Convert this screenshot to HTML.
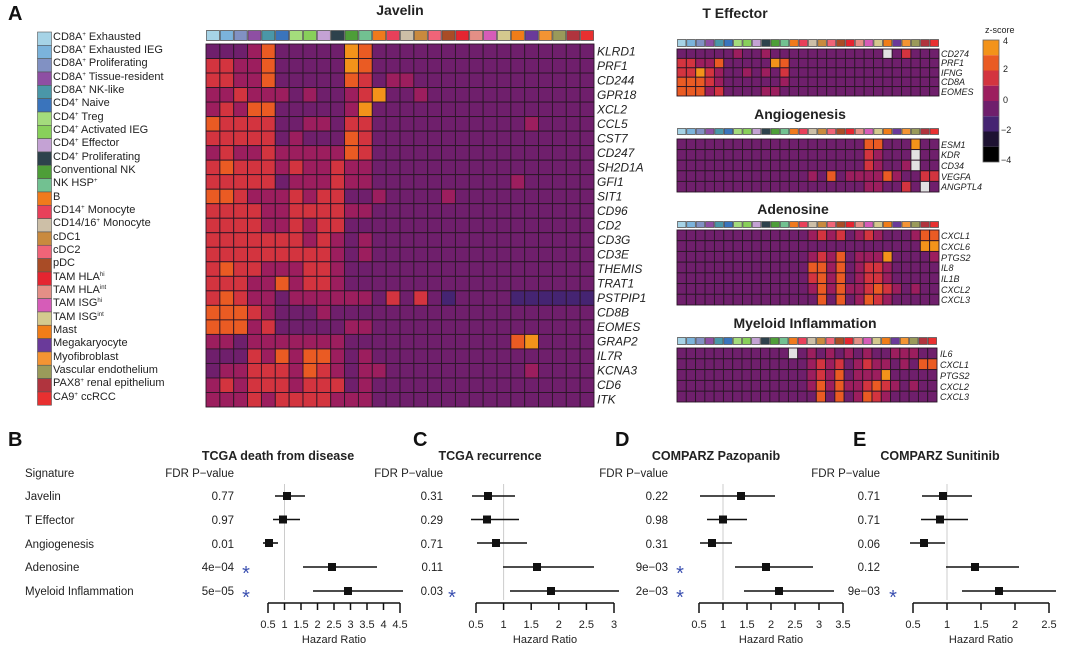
<!DOCTYPE html>
<html><head><meta charset="utf-8"><style>
html,body{margin:0;padding:0;background:#fff;}
svg{display:block;font-family:"Liberation Sans",Arial,sans-serif;}
.g{font-style:italic;font-size:12px;fill:#222}
.gs{font-style:italic;font-size:9px;fill:#222}
.lg{font-size:11px;fill:#222}
.t{font-weight:bold;font-size:14px;fill:#222}
.f{font-size:11.5px;fill:#222}
.tk{font-size:11px;fill:#222}
.P{font-weight:bold;font-size:20px;fill:#111}
.st{fill:#3a4fb0;font-size:20px}
</style></head><body>
<svg id="s" width="1067" height="650" viewBox="0 0 1067 650" xmlns="http://www.w3.org/2000/svg">
<g id="shapes"></g>
<text class="P" x="8" y="20">A</text>
<text class="t" x="400" y="15" text-anchor="middle">Javelin</text>
<text class="t" x="735" y="18" text-anchor="middle">T Effector</text>
<text class="t" x="800" y="119" text-anchor="middle">Angiogenesis</text>
<text class="t" x="793" y="214" text-anchor="middle">Adenosine</text>
<text class="t" x="805" y="328" text-anchor="middle">Myeloid Inflammation</text>
<text x="985" y="33" style="font-size:9px;fill:#222">z-score</text>
<g style="font-size:9px;fill:#222">
<text x="1003" y="44">4</text><text x="1003" y="72">2</text><text x="1003" y="103">0</text><text x="1001" y="133">−2</text><text x="1001" y="163">−4</text>
</g>
<g class="lg">
<text x="53" y="40">CD8A<tspan dy="-4" font-size="6">+</tspan><tspan dy="4"> Exhausted</tspan></text>
<text x="53" y="53">CD8A<tspan dy="-4" font-size="6">+</tspan><tspan dy="4"> Exhausted IEG</tspan></text>
<text x="53" y="66">CD8A<tspan dy="-4" font-size="6">+</tspan><tspan dy="4"> Proliferating</tspan></text>
<text x="53" y="80">CD8A<tspan dy="-4" font-size="6">+</tspan><tspan dy="4"> Tissue-resident</tspan></text>
<text x="53" y="93">CD8A<tspan dy="-4" font-size="6">+</tspan><tspan dy="4"> NK-like</tspan></text>
<text x="53" y="106">CD4<tspan dy="-4" font-size="6">+</tspan><tspan dy="4"> Naive</tspan></text>
<text x="53" y="120">CD4<tspan dy="-4" font-size="6">+</tspan><tspan dy="4"> Treg</tspan></text>
<text x="53" y="133">CD4<tspan dy="-4" font-size="6">+</tspan><tspan dy="4"> Activated IEG</tspan></text>
<text x="53" y="146">CD4<tspan dy="-4" font-size="6">+</tspan><tspan dy="4"> Effector</tspan></text>
<text x="53" y="160">CD4<tspan dy="-4" font-size="6">+</tspan><tspan dy="4"> Proliferating</tspan></text>
<text x="53" y="173">Conventional NK</text>
<text x="53" y="186">NK HSP<tspan dy="-4" font-size="6">+</tspan></text>
<text x="53" y="200">B</text>
<text x="53" y="213">CD14<tspan dy="-4" font-size="6">+</tspan><tspan dy="4"> Monocyte</tspan></text>
<text x="53" y="226">CD14/16<tspan dy="-4" font-size="6">+</tspan><tspan dy="4"> Monocyte</tspan></text>
<text x="53" y="240">cDC1</text>
<text x="53" y="253">cDC2</text>
<text x="53" y="266">pDC</text>
<text x="53" y="280">TAM HLA<tspan dy="-4" font-size="6">hi</tspan></text>
<text x="53" y="293">TAM HLA<tspan dy="-4" font-size="6">int</tspan></text>
<text x="53" y="306">TAM ISG<tspan dy="-4" font-size="6">hi</tspan></text>
<text x="53" y="320">TAM ISG<tspan dy="-4" font-size="6">int</tspan></text>
<text x="53" y="333">Mast</text>
<text x="53" y="346">Megakaryocyte</text>
<text x="53" y="360">Myofibroblast</text>
<text x="53" y="373">Vascular endothelium</text>
<text x="53" y="386">PAX8<tspan dy="-4" font-size="6">+</tspan><tspan dy="4"> renal epithelium</tspan></text>
<text x="53" y="400">CA9<tspan dy="-4" font-size="6">+</tspan><tspan dy="4"> ccRCC</tspan></text>
</g>
<g class="g">
<text x="597" y="55.5">KLRD1</text><text x="597" y="70">PRF1</text><text x="597" y="84.5">CD244</text><text x="597" y="99">GPR18</text>
<text x="597" y="113.5">XCL2</text><text x="597" y="128">CCL5</text><text x="597" y="142.5">CST7</text><text x="597" y="157">CD247</text>
<text x="597" y="171.5">SH2D1A</text><text x="597" y="186">GFI1</text><text x="597" y="200.5">SIT1</text><text x="597" y="215">CD96</text>
<text x="597" y="229.5">CD2</text><text x="597" y="244">CD3G</text><text x="597" y="258.5">CD3E</text><text x="597" y="273">THEMIS</text>
<text x="597" y="287.5">TRAT1</text><text x="597" y="302">PSTPIP1</text><text x="597" y="316.5">CD8B</text><text x="597" y="331">EOMES</text>
<text x="597" y="345.5">GRAP2</text><text x="597" y="360">IL7R</text><text x="597" y="374.5">KCNA3</text><text x="597" y="389">CD6</text>
<text x="597" y="403.5">ITK</text>
</g>
<g class="gs">
<text x="941" y="57">CD274</text><text x="941" y="66">PRF1</text><text x="941" y="76">IFNG</text><text x="941" y="85">CD8A</text><text x="941" y="95">EOMES</text>
<text x="941" y="148">ESM1</text><text x="941" y="158">KDR</text><text x="941" y="169">CD34</text><text x="941" y="180">VEGFA</text><text x="941" y="190">ANGPTL4</text>
<text x="941" y="239">CXCL1</text><text x="941" y="250">CXCL6</text><text x="941" y="261">PTGS2</text><text x="941" y="271">IL8</text><text x="941" y="282">IL1B</text><text x="941" y="293">CXCL2</text><text x="941" y="303">CXCL3</text>
<text x="940" y="357">IL6</text><text x="940" y="368">CXCL1</text><text x="940" y="379">PTGS2</text><text x="940" y="390">CXCL2</text><text x="940" y="400">CXCL3</text>
</g>
<text class="P" x="8" y="446">B</text><text class="P" x="413" y="446">C</text><text class="P" x="615" y="446">D</text><text class="P" x="853" y="446">E</text>
<g class="t" style="font-size:12.5px" text-anchor="middle">
<text x="278" y="460">TCGA death from disease</text><text x="490" y="460">TCGA recurrence</text>
<text x="716" y="460">COMPARZ Pazopanib</text><text x="940" y="460">COMPARZ Sunitinib</text>
</g>
<g class="f">
<text x="25" y="477">Signature</text><text x="25" y="500">Javelin</text><text x="25" y="524">T Effector</text>
<text x="25" y="548">Angiogenesis</text><text x="25" y="571">Adenosine</text><text x="25" y="595">Myeloid Inflammation</text>
</g>
<g class="f" text-anchor="end">
<text x="234" y="477">FDR P−value</text><text x="234" y="500">0.77</text><text x="234" y="524">0.97</text><text x="234" y="548">0.01</text><text x="234" y="571">4e−04</text><text x="234" y="595">5e−05</text>
<text x="443" y="477">FDR P−value</text><text x="443" y="500">0.31</text><text x="443" y="524">0.29</text><text x="443" y="548">0.71</text><text x="443" y="571">0.11</text><text x="443" y="595">0.03</text>
<text x="668" y="477">FDR P−value</text><text x="668" y="500">0.22</text><text x="668" y="524">0.98</text><text x="668" y="548">0.31</text><text x="668" y="571">9e−03</text><text x="668" y="595">2e−03</text>
<text x="880" y="477">FDR P−value</text><text x="880" y="500">0.71</text><text x="880" y="524">0.71</text><text x="880" y="548">0.06</text><text x="880" y="571">0.12</text><text x="880" y="595">9e−03</text>
</g>
<g class="st" text-anchor="middle">
<text x="246" y="580">*</text><text x="246" y="604">*</text><text x="452" y="604">*</text><text x="680" y="580">*</text><text x="680" y="604">*</text><text x="893" y="604">*</text>
</g>
<g class="tk" text-anchor="middle">
<text x="268" y="628">0.5</text><text x="284.5" y="628">1</text><text x="301" y="628">1.5</text><text x="317.5" y="628">2</text><text x="334" y="628">2.5</text><text x="350.5" y="628">3</text><text x="367" y="628">3.5</text><text x="383.5" y="628">4</text><text x="400" y="628">4.5</text>
<text x="334" y="643">Hazard Ratio</text>
<text x="476" y="628">0.5</text><text x="503.6" y="628">1</text><text x="531.2" y="628">1.5</text><text x="558.8" y="628">2</text><text x="586.4" y="628">2.5</text><text x="614" y="628">3</text>
<text x="545" y="643">Hazard Ratio</text>
<text x="699" y="628">0.5</text><text x="723" y="628">1</text><text x="747" y="628">1.5</text><text x="771" y="628">2</text><text x="795" y="628">2.5</text><text x="819" y="628">3</text><text x="843" y="628">3.5</text>
<text x="771" y="643">Hazard Ratio</text>
<text x="913" y="628">0.5</text><text x="947" y="628">1</text><text x="981" y="628">1.5</text><text x="1015" y="628">2</text><text x="1049" y="628">2.5</text>
<text x="981" y="643">Hazard Ratio</text>
</g>
</svg>
<script>
var NS="http://www.w3.org/2000/svg",G=document.getElementById("shapes");
function R(x,y,w,h,f,s,sw){var e=document.createElementNS(NS,"rect");e.setAttribute("x",x);e.setAttribute("y",y);e.setAttribute("width",w);e.setAttribute("height",h);e.setAttribute("fill",f);if(s){e.setAttribute("stroke",s);e.setAttribute("stroke-width",sw||1);}G.appendChild(e);}
function L(x1,y1,x2,y2,s,w){var e=document.createElementNS(NS,"line");e.setAttribute("x1",x1);e.setAttribute("y1",y1);e.setAttribute("x2",x2);e.setAttribute("y2",y2);e.setAttribute("stroke",s);e.setAttribute("stroke-width",w);G.appendChild(e);}
var CT=["#a6d3e6","#7bb3db","#8191c3","#8e4fa3","#4a97a8","#3a74bc","#a4dc7c","#88d05a","#c4a2d4","#2d424c","#4e9e38","#72c191","#f07a1c","#e8405a","#cdbfa7","#c98a3e","#f06478","#a94c26","#e42530","#e48f86","#d65cb8","#d4c98e","#f07d18","#6a3a9a","#f39433","#9a9a5a","#b0343e","#e83030"];
var HC={p:"#6f1f6c",m:"#9c1e5e",r:"#d3343f",o:"#ea5b23",y:"#f3931a",d:"#452472",w:"#e2e2e2"};
function pad(s){while(s.length<28)s+="p";return s;}
function P(n){return new Array(n+1).join("p");}
for(var i=0;i<28;i++)R(37.5,32+i*13.33,14,13.33,CT[i],"#555",0.6);
function heat(x0,x1,sy0,sy1,y0,y1,rows){
 var n=28,cw=(x1-x0)/n;
 R(x0,sy0,x1-x0,sy1-sy0,"#999");
 for(var i=0;i<n;i++)R(x0+i*cw+0.5,sy0+0.7,cw-1,sy1-sy0-1.4,CT[i],"#444",0.5);
 R(x0,y0,x1-x0,y1-y0,"#222");
 var rh=(y1-y0)/rows.length;
 for(var r=0;r<rows.length;r++){var s=pad(rows[r]);for(var c=0;c<n;c++)R(x0+c*cw,y0+r*rh,cw,rh,HC[s[c]],"#2a1626",0.9);}
}
heat(206,594,30,41,44,407,["pppmopppppyo","rrmmopppppyo","rrmmoppppporpmm","mmrmmmpmppmryppm","mrmoopppppmy","orrrrppmmprr"+P(11)+"m","rrrrrpmpppor","mrmmrmmmmmor","rorrrmrmmrmm","rrrrrpmmmrmm"+P(10)+"m","oormmmrmrrppm"+P(4)+"m","rrrrmmrrrrmm","rrrrmmrmrrpp","rrrrrrrmrmpm","rrrrrrrrrmpm","rorrmmmrrmpp","rrrmmomrrmpp","rormmpmmmmmmprprpdppppdddddd","ooormpppmppp","ooomrpppppmm","mmpmmmmmmmpp"+P(10)+"oy","ppprmomoompm","pmmrrrmormpmm"+P(10)+"m","mrmrrrmrrrpm","mmmrmrrrrmmm"]);
heat(677,939,39,47,49,96,["ppppppmppm"+P(12)+"wpr","rrmmopppppyo","rryrmppmpmpr","ooormppppppm","ooomrppppmm"]);
heat(677,939,128,135,139,192,[P(20)+"ooppp"+"y",P(20)+"rmppp"+"w",P(20)+"rmppmw",P(14)+"mpopmmmmompprr",P(20)+"mmpprpwp"]);
heat(677,939,221,228,230,305,[P(14)+"mrmrpmrmpppmoo",P(26)+"yy",P(14)+"mrmopmmmypppp"+"m",P(14)+"oomopmrrm",P(14)+"romopmrrm",P(14)+"momommrormpm",P(15)+"opopmorm"]);
heat(677,937,337,345,348,402,[P(12)+"wpmpmpmpmppmmm",P(14)+"mrmrpmrmmpmpoo",P(14)+"mrmopmmmy",P(14)+"momommrormpm",P(15)+"opopmorm"]);
var cb=["#f3931a","#ea5b23","#d3343f","#9c1e5e","#6f1f6c","#452472","#1e1232","#000"];
for(var i=0;i<8;i++)R(983,40+i*15.25,16,15.25,cb[i]);
R(983,40,16,122,"none","#666",0.8);
var rowsY=[496,519.5,543,567,591];
function forest(a0,a1,ticks,ref,pts){
 L(ref,484,ref,600,"#ccc",1);
 L(a0,603,a1,603,"#111",1.5);
 for(var i=0;i<ticks;i++){var x=a0+(a1-a0)*i/(ticks-1);L(x,603,x,(i==0||i==ticks-1)?613:610,"#111",1.5);}
 for(var i=0;i<5;i++){var p=pts[i];L(p[1],rowsY[i],p[2],rowsY[i],"#111",1.6);R(p[0]-4,rowsY[i]-4,8,8,"#111");}
}
forest(268,400,9,284.5,[[287,275,305],[283,273,300],[269,263,278],[332,303,377],[348,313,403]]);
forest(476,614,6,503.6,[[488,472,515],[487,471,519],[496,477,527],[537,503,594],[551,510,619]]);
forest(699,843,7,723,[[741,700,775],[723,707,747],[712,700,732],[766,735,813],[779,744,834]]);
forest(913,1049,5,947,[[943,922,972],[940,921,968],[924,910,945],[975,946,1019],[999,962,1056]]);
</script>
</body></html>
